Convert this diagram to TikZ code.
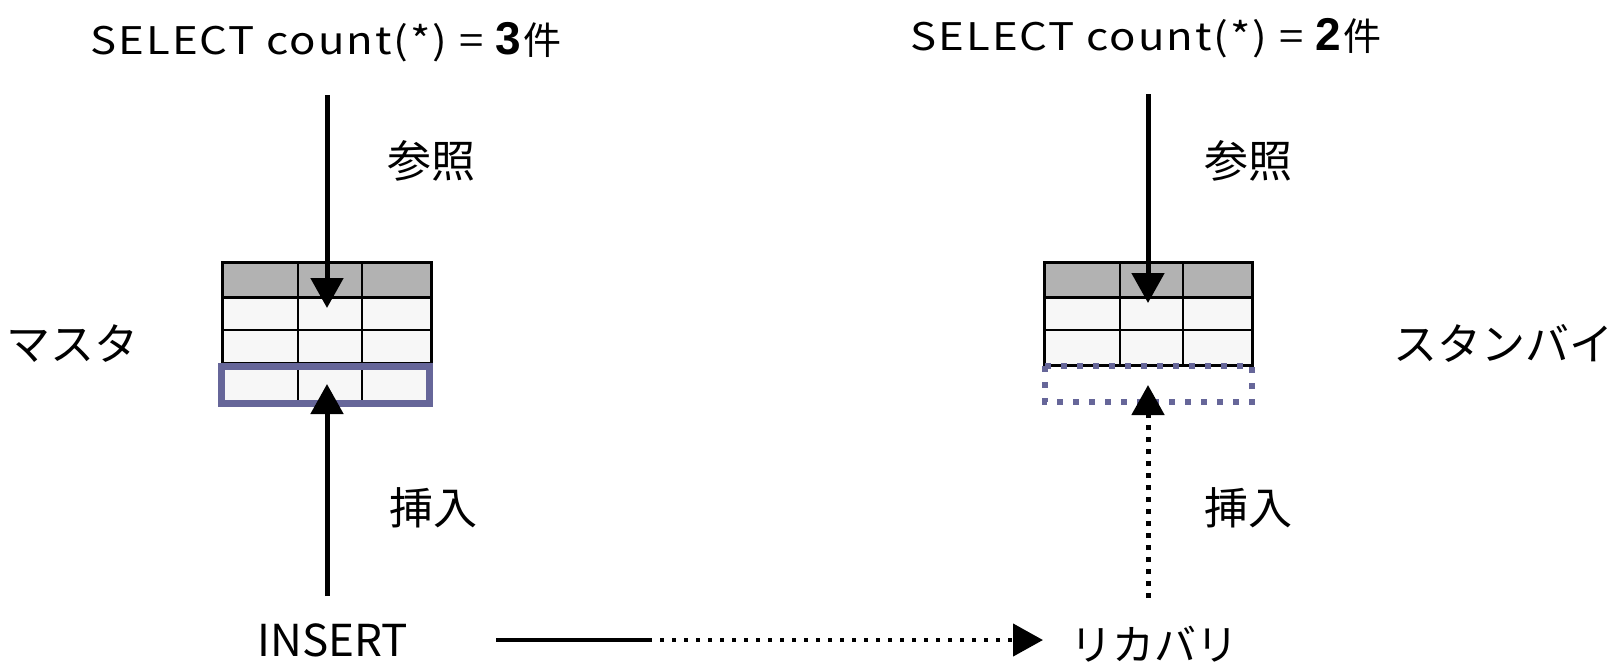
\documentclass[tikz,border=0pt]{standalone}
\usepackage{fontspec}
\setmainfont{Noto Sans CJK JP}
\newfontfamily\numfont{Liberation Sans}
\newfontfamily\latfont[FakeStretch=1.15, LetterSpace=5]{Noto Sans CJK JP}
\usetikzlibrary{arrows.meta}
\definecolor{hdrgray}{HTML}{B2B2B2}
\definecolor{rowgray}{HTML}{F7F7F7}
\definecolor{rowpurple}{HTML}{666699}
\newcommand\bignum{\numfont\bfseries\fontsize{23}{26}\selectfont}
\newcommand\countline[1]{{\latfont SELECT count(*)}\hspace{6pt}{\latfont =}\hspace{6pt}{\bignum #1}\hspace{1pt}{\fontsize{19}{22}\selectfont 件}}
\tikzset{
  ttl/.style={font=\fontsize{19}{22}\selectfont, inner sep=0pt},
  lbl/.style={font=\fontsize{22}{26}\selectfont, inner sep=0pt},
  cell/.style={line width=0.75pt},
  frame/.style={line width=1.5pt},
  flow/.style={->, line width=2.5pt},
  dotflow/.style={->, line width=2.5pt, dash pattern=on 2.5pt off 3.5pt},
}
\begin{document}
\begin{tikzpicture}[x=0.5pt, y=-0.5pt, >={Triangle[length=15pt,width=16pt]}]
  \useasboundingbox (0,0) rectangle (1610,666);
  % master table
  \fill[rowgray] (222,262) rectangle (431,400);
  \fill[hdrgray] (222,262) rectangle (431,297);
  \draw[cell] (298,262) -- (298,400) (362,262) -- (362,400);
  \draw[cell] (222,330) -- (431,330) (222,363) -- (431,363);
  \draw[frame] (222,400) -- (222,262) -- (431,262) -- (431,400) (222,297) -- (431,297);
  \draw[rowpurple, line width=3.5pt] (221.5,366.5) rectangle (429.5,403.5);
  % standby table
  \fill[rowgray] (1044,262) rectangle (1252,365);
  \fill[hdrgray] (1044,262) rectangle (1252,297);
  \draw[cell] (1120,262) -- (1120,365) (1183,262) -- (1183,365) (1044,330) -- (1252,330);
  \draw[frame] (1044,262) rectangle (1252,365) (1044,297) -- (1252,297);
  \draw[rowpurple, line width=3pt, dash pattern=on 3pt off 5pt] (1045,366) rectangle (1252,402);
  % texts
  \node[ttl] (cntL) at (326,42) {\countline{3}};
  \node[ttl] (cntR) at (1146,38) {\countline{2}};
  \node[lbl] (refL) at (431,161) {参照};
  \node[lbl] (refR) at (1248,161) {参照};
  \node[lbl] (master) at (72,344) {マスタ};
  \node[lbl] (standby) at (1503,343) {スタンバイ};
  \node[lbl] (insL) at (433,508) {挿入};
  \node[lbl] (insR) at (1248,508) {挿入};
  \node[lbl] (insert) at (333,640) {INSERT};
  \node[lbl, font=\fontsize{21}{25}\selectfont] (recover) at (1154,644) {リカバリ};
  % arrows
  \coordinate (readL) at (327,95);
  \coordinate (hitL) at (327,308);
  \coordinate (srcL) at (327,596);
  \coordinate (rowL) at (327,384);
  \coordinate (readR) at (1148,94);
  \coordinate (hitR) at (1148,303);
  \coordinate (srcR) at (1148,598);
  \coordinate (rowR) at (1148,385);
  \coordinate (logA) at (496,640);
  \coordinate (logB) at (648,640);
  \coordinate (logC) at (1043,640);
  \draw[flow] (readL) -- (hitL);
  \draw[flow] (srcL) -- (rowL);
  \draw[flow] (readR) -- (hitR);
  \draw[dotflow] (srcR) -- (rowR);
  \draw[line width=2.2pt] (logA) -- (logB);
  \draw[->, line width=2.2pt, dash pattern=on 2.2pt off 3.8pt] (logB) -- (logC);
\end{tikzpicture}
\end{document}
